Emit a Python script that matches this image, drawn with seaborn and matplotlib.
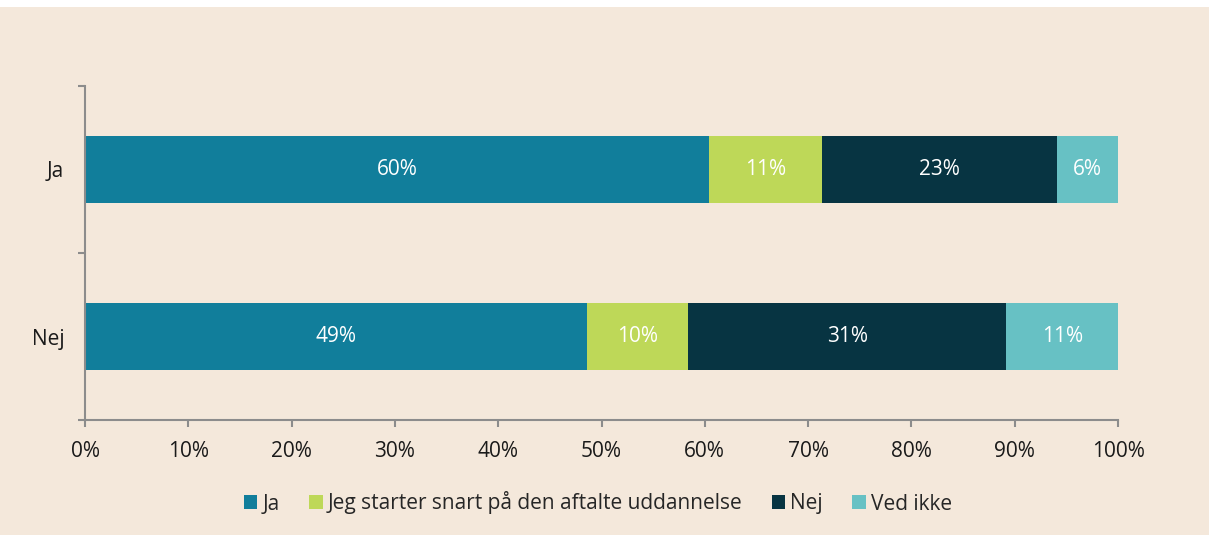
import numpy as np
import pandas as pd
import seaborn as sns
import matplotlib.pyplot as plt
from matplotlib.patches import Rectangle, Patch

# data
rows = ['Ja', 'Nej']
series = ['Ja', 'Jeg starter snart på den aftalte uddannelse', 'Nej', 'Ved ikke']
ja_vals = [60.4, 10.9, 22.8, 5.9]
nej_vals = [48.6, 9.8, 30.8, 10.8]
bar_labels_ja = ['60%', '11%', '23%', '6%']
bar_labels_nej = ['49%', '10%', '31%', '11%']
colors = ['#117E9B', '#BED858', '#073442', '#67C1C4']
xticks = [0, 10, 20, 30, 40, 50, 60, 70, 80, 90, 100]

bg = '#F4E8DB'
axis_col = '#8C8C8C'
fs = 15

sns.set_theme(style='white')
plt.rcParams['font.family'] = ['Open Sans', 'DejaVu Sans']

df = pd.DataFrame([ja_vals, nej_vals], index=rows, columns=series)
cum = df.cumsum(axis=1)

fig = plt.figure(figsize=(12.09, 5.35), dpi=100, facecolor=bg)
fig.patches.append(Rectangle((0, 1 - 7 / 535), 1, 7 / 535, transform=fig.transFigure,
                             facecolor='white', edgecolor='none', zorder=-1))
ax = fig.add_axes([85 / 1209, 1 - 420 / 535, (1118 - 85) / 1209, (420 - 86) / 535])
ax.set_facecolor(bg)

# draw cumulative bars from the last series backwards so they stack
for i in range(len(series) - 1, -1, -1):
    d = pd.DataFrame({'row': rows, 'val': cum.iloc[:, i].values})
    sns.barplot(data=d, x='val', y='row', color=colors[i], width=0.4,
                saturation=1, linewidth=0, ax=ax, orient='h')

# labels in the segments
for r, labels in enumerate([bar_labels_ja, bar_labels_nej]):
    starts = np.concatenate([[0], cum.iloc[r].values[:-1]])
    mids = starts + df.iloc[r].values / 2
    for m, lab in zip(mids, labels):
        ax.text(m, r, lab, ha='center', va='center', color='white', fontsize=fs)

ax.set_xlim(0, 100)
ax.set_ylim(1.5, -0.5)
ax.set_xticks(xticks)
ax.set_xticklabels([f'{t}%' for t in xticks], fontsize=fs, color='#1a1a1a')
ax.set_yticks([-0.5, 0.5, 1.5])
ax.set_yticklabels([])
ax.set_yticks([0, 1], minor=True)
ax.set_yticklabels(rows, minor=True, fontsize=fs, color='#1a1a1a')
ax.tick_params(axis='y', which='major', length=5, width=1.5, color=axis_col, left=True)
ax.tick_params(axis='y', which='minor', length=0, pad=15, left=True)
ax.tick_params(axis='x', length=5, width=1.5, color=axis_col, bottom=True, pad=10)
ax.set_xlabel('')
ax.set_ylabel('')

for s in ['top', 'right']:
    ax.spines[s].set_visible(False)
for s in ['left', 'bottom']:
    ax.spines[s].set_color(axis_col)
    ax.spines[s].set_linewidth(1.5)

handles = [Patch(facecolor=c, edgecolor='none') for c in colors]
fig.legend(handles, series, loc='center', bbox_to_anchor=(598 / 1209, 1 - 503 / 535),
           ncol=4, frameon=False, fontsize=fs, handlelength=0.65, handleheight=0.65,
           handletextpad=0.25, columnspacing=1.4)

fig.savefig('out.png', dpi=100, facecolor=bg)
